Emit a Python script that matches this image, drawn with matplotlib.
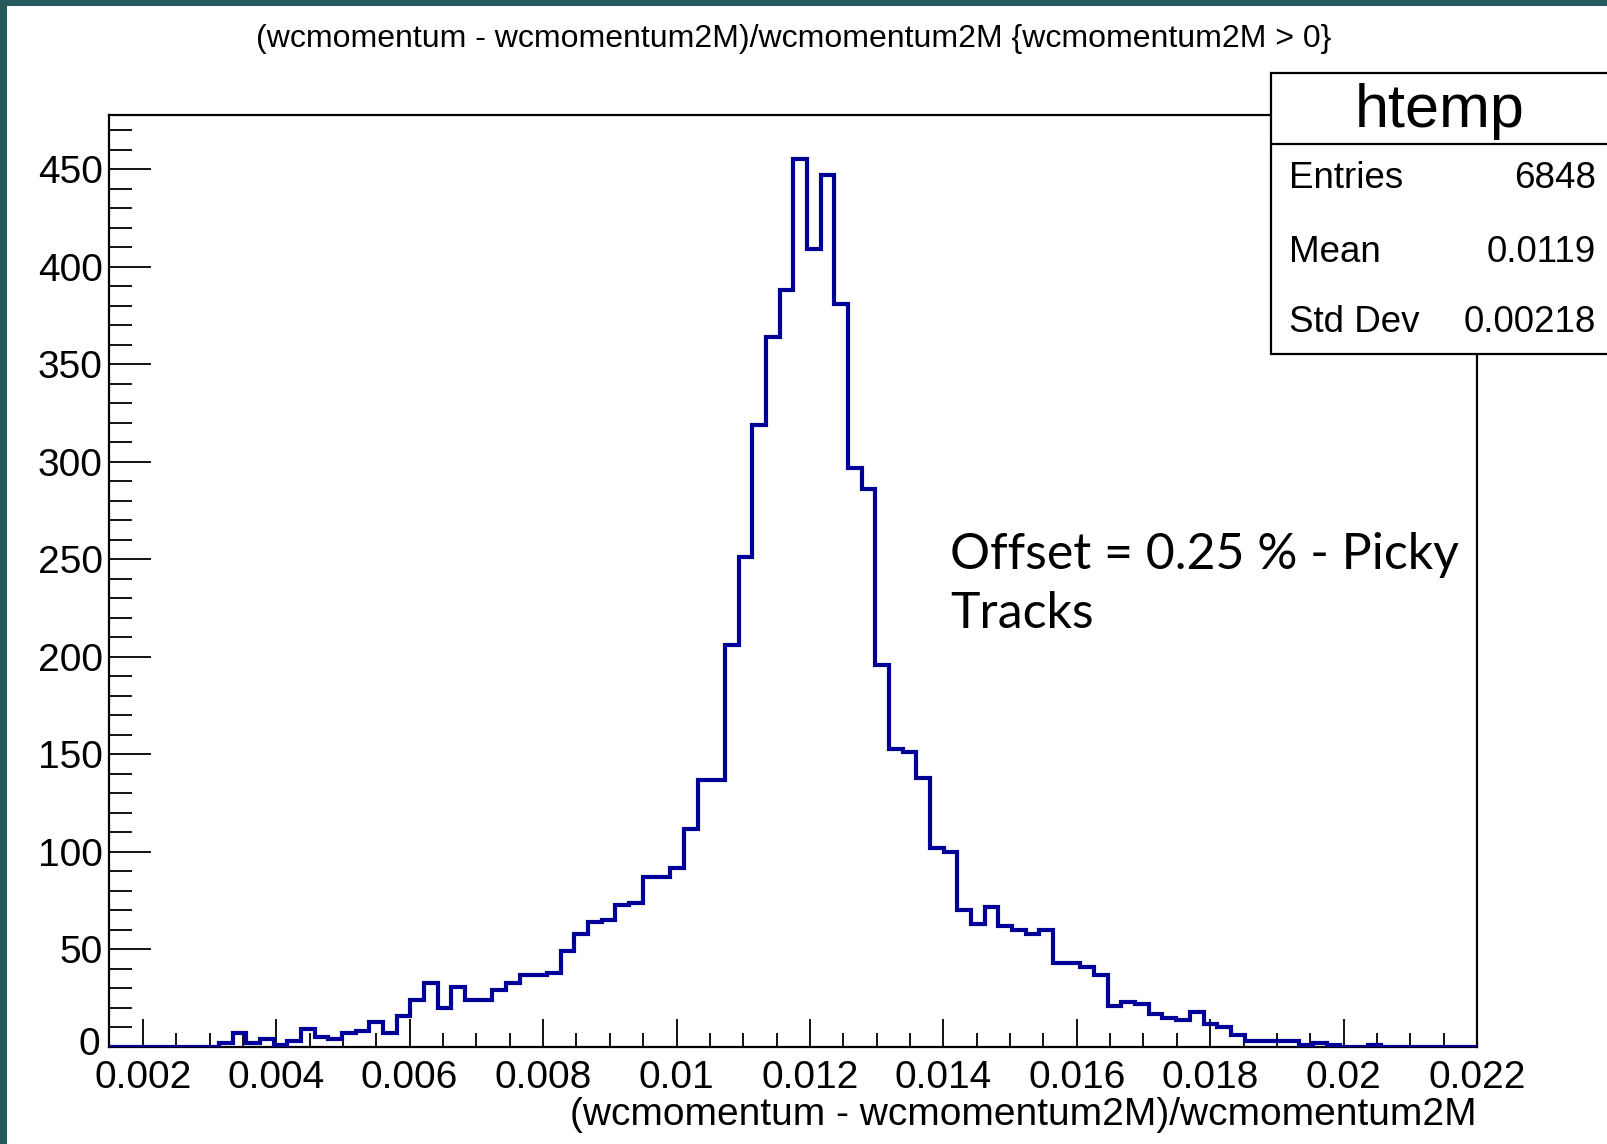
import numpy as np
import matplotlib
matplotlib.use("Agg")
import matplotlib.pyplot as plt
from matplotlib.patches import Rectangle
from matplotlib.lines import Line2D
from matplotlib.ticker import MultipleLocator, FixedLocator
from matplotlib.transforms import ScaledTranslation

# Histogram binning: 100 bins over the range of the variable
x_low = 0.0015
x_high = 0.022
n_bins = 100

# Bin contents of htemp
counts = [
    0, 0, 0, 0, 0, 0, 0, 0, 2, 7,
    2, 4, 1, 3, 9, 5, 4, 7, 8, 13,
    7, 16, 24, 33, 20, 31, 24, 24, 29, 33,
    37, 37, 38, 49, 58, 64, 65, 73, 74, 87,
    87, 92, 112, 137, 137, 206, 251, 319, 364, 388,
    455, 409, 447, 381, 297, 286, 196, 153, 151, 138,
    102, 100, 70, 63, 72, 62, 60, 58, 60, 43,
    43, 41, 37, 21, 23, 22, 17, 15, 14, 18,
    12, 10, 6, 3, 3, 3, 3, 1, 2, 1,
    0, 0, 1, 0, 0, 0, 0, 0, 0, 0,
]

x_ticks = [0.002, 0.004, 0.006, 0.008, 0.01, 0.012, 0.014, 0.016, 0.018, 0.02, 0.022]
x_tick_labels = ["0.002", "0.004", "0.006", "0.008", "0.01", "0.012",
                 "0.014", "0.016", "0.018", "0.02", "0.022"]
y_ticks = [0, 50, 100, 150, 200, 250, 300, 350, 400, 450]

stats_labels = ["Entries", "Mean", "Std Dev"]
stats_values = ["6848", "0.0119", "0.00218"]

title = "(wcmomentum - wcmomentum2M)/wcmomentum2M {wcmomentum2M > 0}"
x_title = "(wcmomentum - wcmomentum2M)/wcmomentum2M"
note_lines = ["Offset = 0.25 % - Picky", "Tracks"]

W, H = 1608, 1144
fig = plt.figure(figsize=(W / 100, H / 100), dpi=100)
fig.patch.set_facecolor("white")

def fx(px):
    return px / W

def fy(py):
    return 1 - py / H

# slide frame strips
teal = "#245a5c"
fig.add_artist(Rectangle((0, 0), fx(7), 1, transform=fig.transFigure,
                         facecolor=teal, edgecolor="none", zorder=0))
fig.add_artist(Rectangle((0, fy(6)), 1, 6 / H, transform=fig.transFigure,
                         facecolor=teal, edgecolor="none", zorder=0))

ax_l, ax_r, ax_t, ax_b = 109.5, 1477, 115, 1047
ax = fig.add_axes([fx(ax_l), fy(ax_b), fx(ax_r - ax_l), (ax_b - ax_t) / H])

edges = np.linspace(x_low, x_high, n_bins + 1)
ax.stairs(counts, edges, baseline=0, fill=False, color="#000099", lw=3.0, zorder=3)

ymax = max(counts) * 1.05
ax.set_xlim(x_low, x_high)
ax.set_ylim(0, ymax)

ROOT_FONT = "Liberation Sans"

ax.xaxis.set_major_locator(FixedLocator(x_ticks))
ax.set_xticklabels(x_tick_labels, fontfamily=ROOT_FONT, fontsize=28)
ax.xaxis.set_minor_locator(MultipleLocator(0.0005))
ax.yaxis.set_major_locator(FixedLocator(y_ticks))
ax.set_yticklabels([str(v) for v in y_ticks], fontfamily=ROOT_FONT, fontsize=28)
ax.yaxis.set_minor_locator(MultipleLocator(10))

ax.tick_params(axis="x", which="major", direction="in", length=20, width=1.3,
               pad=9, top=False, color="black")
ax.tick_params(axis="x", which="minor", direction="in", length=10, width=1.3, top=False)
ax.tick_params(axis="y", which="major", direction="in", length=30, width=1.3,
               pad=5, right=False)
ax.tick_params(axis="y", which="minor", direction="in", length=16.5, width=1.3, right=False)
for s in ax.spines.values():
    s.set_linewidth(1.6)
    s.set_color("black")

# the zero label sits a little above the corner, clear of the x labels
zero_lab = ax.get_yticklabels()[0]
zero_lab.set_transform(zero_lab.get_transform()
                       + ScaledTranslation(-2 / 72, 4 / 72, fig.dpi_scale_trans))

# titles
fig.text(fx(794), fy(39), title, ha="center", va="center",
         fontfamily=ROOT_FONT, fontsize=23)
fig.text(fx(ax_r), fy(1115), x_title, ha="right", va="center",
         fontfamily=ROOT_FONT, fontsize=28)

# annotation
note_font = "Lato"
fig.text(fx(950), fy(569), note_lines[0], ha="left", va="baseline",
         fontfamily=note_font, fontsize=36)
fig.text(fx(950), fy(628), note_lines[1], ha="left", va="baseline",
         fontfamily=note_font, fontsize=36)

# statistics box
bx0, by0, by1 = 1271.5, 73.5, 353.5
fig.add_artist(Rectangle((fx(bx0), fy(by1)), fx(W + 20 - bx0), (by1 - by0) / H,
                         transform=fig.transFigure, facecolor="white",
                         edgecolor="black", lw=1.6, zorder=5))
fig.add_artist(Line2D([fx(bx0), 1.0], [fy(143.5), fy(143.5)],
                      transform=fig.transFigure, color="black", lw=1.6, zorder=6))
fig.text(fx(1440), fy(126.5), "htemp", ha="center", va="baseline",
         fontfamily=ROOT_FONT, fontsize=44, zorder=7)
for lab, val, base in zip(stats_labels, stats_values, [188, 261.5, 331.5]):
    fig.text(fx(1289), fy(base), lab, ha="left", va="baseline",
             fontfamily=ROOT_FONT, fontsize=26.5, zorder=7)
    fig.text(fx(1596), fy(base), val, ha="right", va="baseline",
             fontfamily=ROOT_FONT, fontsize=26.5, zorder=7)

fig.savefig("out.png", dpi=100)
